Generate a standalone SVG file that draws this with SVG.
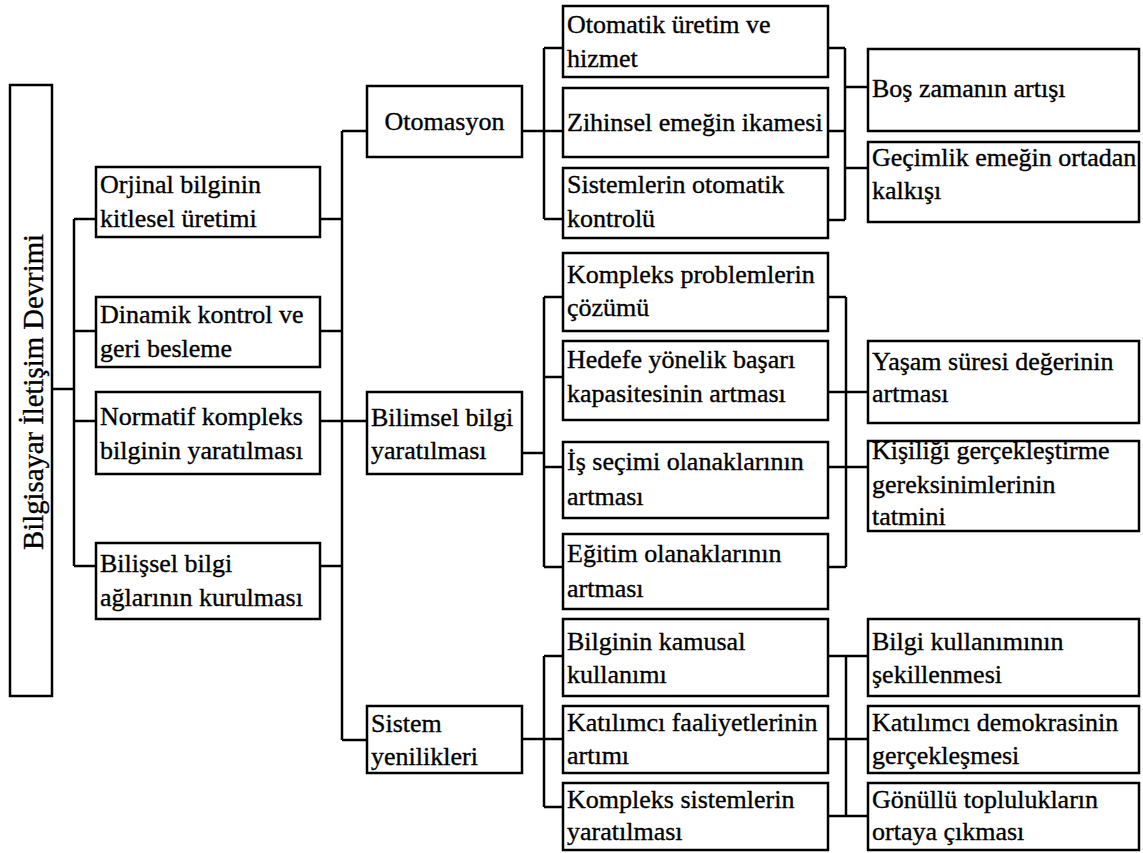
<svg xmlns="http://www.w3.org/2000/svg" width="1143" height="853" viewBox="0 0 1143 853">
  <style>
    .box { fill: #fff; stroke: #000; stroke-width: 2.5; }
    .t { font-family: "Liberation Serif", "Times New Roman", serif; font-size: 26px; fill: #000; stroke: #000; stroke-width: 0.35; }
    .root { font-family: "Liberation Serif", "Times New Roman", serif; font-size: 30px; fill: #000; stroke: #000; stroke-width: 0.35; }
    .wire { fill: none; stroke: #000; stroke-width: 2.5; }
  </style>
  <rect width="1143" height="853" fill="#fff"/>

  <!-- connectors -->
  <g id="connectors" class="wire">
    <!-- root to level 1 -->
    <path d="M52 389H74M74 219V566M74 219H96M74 331H96M74 421H96M74 566H96"/>
    <!-- level 1 to level 2 -->
    <path d="M320 219H342M320 331H342M320 421H342M320 566H342M342 131V740M342 131H367M342 421H367M342 740H367"/>
    <!-- Otomasyon branch -->
    <path d="M522 131H544M544 48V219M544 48H563M544 131H563M544 219H563"/>
    <path d="M828 48H845M828 131H845M828 220H845M845 48V220M845 87H868M845 168H868"/>
    <!-- Bilimsel bilgi branch -->
    <path d="M522 453H544M544 297V567M544 297H563M544 377H563M544 467H563M544 567H563"/>
    <path d="M828 297H846M828 392H868M828 467H868M828 567H846M846 297V567"/>
    <!-- Sistem yenilikleri branch -->
    <path d="M522 739H544M544 656V807M544 656H563M544 739H563M544 807H563"/>
    <path d="M828 656H868M828 739H868M828 816H868M846 656V816"/>
  </g>

  <!-- root -->
  <g id="root">
    <rect class="box" x="10" y="85" width="42" height="611"/>
    <text class="root" transform="translate(43 392) rotate(-90)" text-anchor="middle" textLength="316" lengthAdjust="spacingAndGlyphs">Bilgisayar İletişim  Devrimi</text>
  </g>

  <!-- level 1 -->
  <g id="n-orjinal">
    <rect class="box" x="96" y="167" width="224" height="70"/>
    <text class="t" x="100" y="193">Orjinal bilginin</text>
    <text class="t" x="100" y="227">kitlesel üretimi</text>
  </g>
  <g id="n-dinamik">
    <rect class="box" x="96" y="297" width="224" height="70"/>
    <text class="t" x="100" y="323">Dinamik kontrol ve</text>
    <text class="t" x="100" y="357">geri besleme</text>
  </g>
  <g id="n-normatif">
    <rect class="box" x="96" y="392" width="224" height="82"/>
    <text class="t" x="100" y="425">Normatif kompleks</text>
    <text class="t" x="100" y="459">bilginin yaratılması</text>
  </g>
  <g id="n-bilissel">
    <rect class="box" x="96" y="543" width="224" height="76"/>
    <text class="t" x="100" y="572">Bilişsel bilgi</text>
    <text class="t" x="100" y="606">ağlarının kurulması</text>
  </g>

  <!-- level 2 -->
  <g id="n-otomasyon">
    <rect class="box" x="367" y="86" width="155" height="71"/>
    <text class="t" x="444.5" y="130" text-anchor="middle">Otomasyon</text>
  </g>
  <g id="n-bilimsel">
    <rect class="box" x="367" y="392" width="155" height="82"/>
    <text class="t" x="371" y="426">Bilimsel bilgi</text>
    <text class="t" x="371" y="459">yaratılması</text>
  </g>
  <g id="n-sistem">
    <rect class="box" x="367" y="706" width="155" height="67"/>
    <text class="t" x="371" y="732">Sistem</text>
    <text class="t" x="371" y="765">yenilikleri</text>
  </g>

  <!-- level 3: Otomasyon -->
  <g id="n-otomatik-uretim">
    <rect class="box" x="563" y="6" width="265" height="71"/>
    <text class="t" x="567" y="33">Otomatik üretim ve</text>
    <text class="t" x="567" y="67">hizmet</text>
  </g>
  <g id="n-zihinsel">
    <rect class="box" x="563" y="88" width="265" height="69"/>
    <text class="t" x="567" y="131">Zihinsel emeğin ikamesi</text>
  </g>
  <g id="n-sistemlerin">
    <rect class="box" x="563" y="168" width="265" height="70"/>
    <text class="t" x="567" y="193">Sistemlerin otomatik</text>
    <text class="t" x="567" y="227">kontrolü</text>
  </g>

  <!-- level 3: Bilimsel bilgi -->
  <g id="n-kompleks-problem">
    <rect class="box" x="563" y="253" width="265" height="78"/>
    <text class="t" x="567" y="283">Kompleks problemlerin</text>
    <text class="t" x="567" y="316">çözümü</text>
  </g>
  <g id="n-hedefe">
    <rect class="box" x="563" y="341" width="265" height="79"/>
    <text class="t" x="567" y="368">Hedefe yönelik başarı</text>
    <text class="t" x="567" y="402">kapasitesinin artması</text>
  </g>
  <g id="n-is-secimi">
    <rect class="box" x="563" y="442" width="265" height="76"/>
    <text class="t" x="567" y="470">İş seçimi olanaklarının</text>
    <text class="t" x="567" y="505">artması</text>
  </g>
  <g id="n-egitim">
    <rect class="box" x="563" y="534" width="265" height="75"/>
    <text class="t" x="567" y="562">Eğitim olanaklarının</text>
    <text class="t" x="567" y="597">artması</text>
  </g>

  <!-- level 3: Sistem yenilikleri -->
  <g id="n-kamusal">
    <rect class="box" x="563" y="619" width="265" height="77"/>
    <text class="t" x="567" y="650">Bilginin kamusal</text>
    <text class="t" x="567" y="683">kullanımı</text>
  </g>
  <g id="n-katilimci-faaliyet">
    <rect class="box" x="563" y="706" width="265" height="67"/>
    <text class="t" x="567" y="731">Katılımcı faaliyetlerinin</text>
    <text class="t" x="567" y="764">artımı</text>
  </g>
  <g id="n-kompleks-sistem">
    <rect class="box" x="563" y="783" width="265" height="67"/>
    <text class="t" x="567" y="808">Kompleks sistemlerin</text>
    <text class="t" x="567" y="840">yaratılması</text>
  </g>

  <!-- level 4 -->
  <g id="n-bos-zaman">
    <rect class="box" x="868" y="49" width="271" height="82"/>
    <text class="t" x="872" y="97">Boş zamanın artışı</text>
  </g>
  <g id="n-gecimlik">
    <rect class="box" x="868" y="142" width="271" height="80"/>
    <text class="t" x="872" y="166">Geçimlik emeğin ortadan</text>
    <text class="t" x="872" y="199">kalkışı</text>
  </g>
  <g id="n-yasam">
    <rect class="box" x="868" y="341" width="271" height="82"/>
    <text class="t" x="872" y="370">Yaşam süresi değerinin</text>
    <text class="t" x="872" y="402">artması</text>
  </g>
  <g id="n-kisilik">
    <rect class="box" x="868" y="441" width="271" height="90"/>
    <text class="t" x="872" y="459">Kişiliği gerçekleştirme</text>
    <text class="t" x="872" y="493">gereksinimlerinin</text>
    <text class="t" x="872" y="525">tatmini</text>
  </g>
  <g id="n-bilgi-kullanim">
    <rect class="box" x="868" y="619" width="271" height="77"/>
    <text class="t" x="872" y="650">Bilgi kullanımının</text>
    <text class="t" x="872" y="683">şekillenmesi</text>
  </g>
  <g id="n-demokrasi">
    <rect class="box" x="868" y="706" width="271" height="67"/>
    <text class="t" x="872" y="731">Katılımcı demokrasinin</text>
    <text class="t" x="872" y="764">gerçekleşmesi</text>
  </g>
  <g id="n-gonullu">
    <rect class="box" x="868" y="783" width="271" height="67"/>
    <text class="t" x="872" y="808">Gönüllü toplulukların</text>
    <text class="t" x="872" y="840">ortaya çıkması</text>
  </g>
</svg>
